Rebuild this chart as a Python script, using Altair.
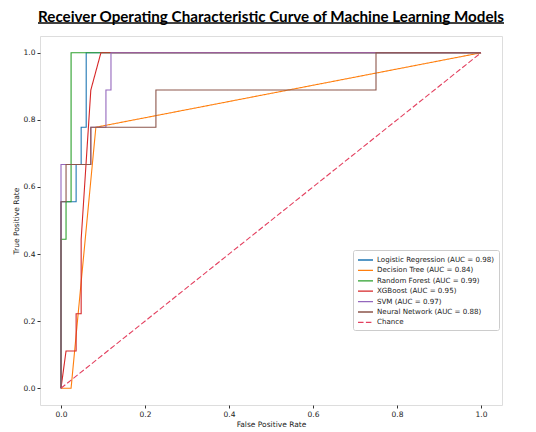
import altair as alt
import pandas as pd

# ---- data ----
names = [
    "Logistic Regression (AUC = 0.98)",
    "Decision Tree (AUC = 0.84)",
    "Random Forest (AUC = 0.99)",
    "XGBoost (AUC = 0.95)",
    "SVM (AUC = 0.97)",
    "Neural Network (AUC = 0.88)",
    "Chance",
]
colors = ["#1f77b4", "#ff7f0e", "#2ca02c", "#d62728", "#9467bd", "#8c564b", "#e3405f"]
dashes = [[1, 0], [1, 0], [1, 0], [1, 0], [1, 0], [1, 0], [5.5, 2.4]]

lr_fpr = [0, 0, 0.036, 0.036, 0.048, 0.048, 0.060, 0.060, 1.0]
lr_tpr = [0, 0.556, 0.556, 0.667, 0.667, 0.778, 0.778, 1.0, 1.0]

dt_fpr = [0, 0.024, 0.083, 1.0]
dt_tpr = [0, 0, 0.778, 1.0]

rf_fpr = [0, 0, 0.012, 0.012, 0.024, 0.024, 1.0]
rf_tpr = [0, 0.444, 0.444, 0.556, 0.556, 1.0, 1.0]

xgb_fpr = [0, 0.012, 0.036, 0.036, 0.048, 0.048, 0.071, 0.095, 1.0]
xgb_tpr = [0, 0.111, 0.111, 0.222, 0.222, 0.444, 0.889, 1.0, 1.0]

svm_fpr = [0, 0, 0.071, 0.071, 0.107, 0.107, 0.119, 0.119, 1.0]
svm_tpr = [0, 0.667, 0.667, 0.778, 0.778, 0.889, 0.889, 1.0, 1.0]

nn_fpr = [0, 0, 0.012, 0.012, 0.071, 0.071, 0.226, 0.226, 0.75, 0.75, 1.0]
nn_tpr = [0, 0.556, 0.556, 0.667, 0.667, 0.778, 0.778, 0.889, 0.889, 1.0, 1.0]

ch_fpr = [0, 1.0]
ch_tpr = [0, 1.0]

tick_values = [0.0, 0.2, 0.4, 0.6, 0.8, 1.0]
title_text = "Receiver Operating Characteristic Curve of Machine Learning Models"

series = [
    (lr_fpr, lr_tpr), (dt_fpr, dt_tpr), (rf_fpr, rf_tpr), (xgb_fpr, xgb_tpr),
    (svm_fpr, svm_tpr), (nn_fpr, nn_tpr), (ch_fpr, ch_tpr),
]
rows = []
for k, (name, (fx, ty)) in enumerate(zip(names, series)):
    for i, (a, b) in enumerate(zip(fx, ty)):
        rows.append({"model": name, "fpr": a, "tpr": b, "i": i, "k": k})
df = pd.DataFrame(rows)

W, H = 462, 369
FONT = "DejaVu Sans"

legend = alt.Legend(
    orient="none", legendX=313, legendY=214,
    symbolType="M-1.5,0L1.5,0", symbolSize=100, symbolStrokeWidth=1.3,
    symbolOffset=2.5,
    labelFontSize=7.1, labelFont=FONT, labelColor="#222", labelOffset=5.5, labelLimit=0,
    strokeColor="#cccccc", fillColor="white", padding=4, cornerRadius=2, rowPadding=0.4,
)

xs = alt.Scale(domain=[-0.05, 1.05], nice=False, zero=False)
ys = alt.Scale(domain=[-0.05, 1.05], nice=False, zero=False)

axis_style = dict(
    grid=False, format=".1f", values=tick_values, domain=False,
    labelFont=FONT, labelFontSize=7.5, labelColor="#222", labelPadding=2,
    titleFont=FONT, titleFontSize=7.5, titleFontWeight="normal", titleColor="#222",
    tickColor="#333", tickSize=3, titleBaseline="middle",
)

lines = alt.Chart(df).mark_line(strokeWidth=1.1, clip=True).encode(
    x=alt.X("fpr:Q", scale=xs, axis=alt.Axis(title="False Positive Rate", titleY=19, **axis_style)),
    y=alt.Y("tpr:Q", scale=ys, axis=alt.Axis(title="True Positive Rate", titleX=-23.5, **axis_style)),
    color=alt.Color("model:N", scale=alt.Scale(domain=names, range=colors),
                    sort=names, title=None, legend=legend),
    strokeDash=alt.StrokeDash("model:N", scale=alt.Scale(domain=names, range=dashes),
                              sort=names, title=None, legend=legend),
    order="i:Q",
    detail="k:Q",
)

deco = pd.DataFrame({"t": [title_text]})

title_mark = alt.Chart(deco).mark_text(
    font="Lato", fontSize=15.2, fontWeight="bold", color="black",
    align="center", baseline="alphabetic",
).encode(text="t:N", x=alt.value(231), y=alt.value(-14.5))

underline = alt.Chart(deco).mark_rule(
    color="black", strokeWidth=1.4
).encode(x=alt.value(-2), x2=alt.value(464), y=alt.value(-13))

chart = alt.layer(lines, title_mark, underline).properties(
    width=W, height=H,
    padding={"left": 32, "top": 28, "right": 20, "bottom": 30},
    autosize=alt.AutoSizeParams(type="none"),
).configure_view(stroke="#333333", strokeWidth=1).configure(background="white")

chart.save("out.html", embed_options={"renderer": "svg", "actions": False})
